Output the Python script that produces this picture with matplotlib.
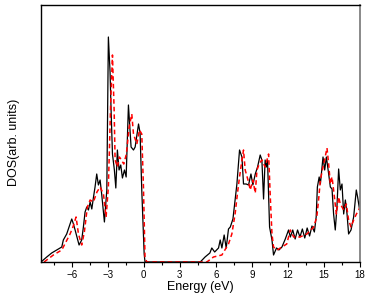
import matplotlib
matplotlib.use("Agg")
import matplotlib.pyplot as plt
from matplotlib.ticker import MultipleLocator

plt.rcParams['font.family'] = ['Liberation Sans', 'DejaVu Sans']

# black curve (solid)
energy_black = [-8.56, -8.08, -7.67, -7.25, -6.83, -6.7, -6.42, -6.14, -6.0, -5.86, -5.72, -5.5, -5.39,
                -5.17, -5.03, -4.89, -4.75, -4.61, -4.47, -4.33, -4.2, -4.06, -3.92, -3.78, -3.64, -3.5,
                -3.28, -3.08, -2.95, -2.81, -2.72, -2.61, -2.45, -2.33, -2.2, -2.06, -1.92, -1.78, -1.61,
                -1.47, -1.28, -1.06, -0.86, -0.72, -0.44, -0.31, -0.17, 0.03, 0.1,
                4.7, 5.1, 5.5, 5.66, 5.9, 6.22, 6.36, 6.5, 6.69,
                6.86, 7.05, 7.2, 7.42, 7.6, 7.75, 7.97, 8.17, 8.3, 8.52, 8.72, 8.92, 9.08, 9.28, 9.47,
                9.69, 9.83, 9.97, 10.1, 10.2, 10.3, 10.47, 10.67, 10.8, 11.05, 11.25, 11.5, 11.78, 12.05,
                12.2, 12.4, 12.6, 12.8, 13.0, 13.2, 13.4, 13.6, 13.8, 14.0, 14.2, 14.35, 14.45, 14.6,
                14.7, 14.92, 15.06, 15.2, 15.39, 15.53, 15.67, 15.8, 15.94, 16.08, 16.22, 16.36, 16.5,
                16.64, 16.78, 16.92, 17.05, 17.25, 17.47, 17.69, 17.8, 17.97, 18.0]
dos_black = [0, 5, 9, 12, 15, 22, 28, 38, 43, 38, 32, 22, 17,
             22, 35, 50, 55, 52, 60, 53, 64, 75, 88, 77, 82, 67,
             40, 72, 225, 190, 150, 108, 92, 74, 112, 92, 97, 84, 92,
             85, 157, 115, 112, 115, 138, 129, 72, 8, 0,
             0, 5, 9, 14, 10, 14, 22, 14, 27,
             14, 33, 35, 43, 62, 78, 112, 105, 78, 78, 77, 88, 77, 88, 95,
             107, 102, 63, 102, 95, 102, 35, 22, 7, 14, 12, 15, 23, 32,
             25, 32, 23, 32, 25, 33, 24, 34, 26, 36, 30, 45, 75, 85,
             78, 105, 92, 105, 88, 75, 73, 48, 32, 55, 93, 72, 78,
             48, 62, 48, 28, 32, 45, 72, 65, 52, 60]

# red curve (dashed)
energy_red = [-8.3, -7.53, -6.83, -6.14, -5.9, -5.64, -5.44, -5.17, -4.95, -4.7, -4.47, -4.2, -3.9,
              -3.64, -3.36, -3.14, -2.95, -2.75, -2.61, -2.47, -2.39, -2.2, -2.03, -1.86, -1.67, -1.45,
              -1.22, -1.0, -0.86, -0.58, -0.36, -0.17, -0.03, 0.1, 0.25, 5.25, 5.8, 6.5, 7.05, 7.33,
              7.6, 7.8, 7.97, 8.17, 8.3, 8.44, 8.72, 8.86, 9.08, 9.28, 9.42, 9.64, 9.83, 10.1, 10.39,
              10.53, 10.67, 10.8, 11.1, 11.5, 11.9, 12.2, 12.47, 13.0, 13.58, 14.14, 14.4, 14.55, 14.7,
              14.92, 15.1, 15.25, 15.39, 15.53, 15.67, 15.8, 16.03, 16.22, 16.36, 16.64, 16.86, 17.05,
              17.25, 17.47, 17.7, 17.9, 18.0]
dos_red = [0, 7, 12, 28, 35, 45, 28, 17, 30, 55, 62, 60, 70,
           75, 68, 45, 75, 162, 207, 152, 102, 95, 105, 102, 98, 108,
           135, 148, 128, 118, 132, 128, 75, 5, 0, 0, 5, 7, 18, 28,
           48, 69, 85, 102, 112, 92, 80, 72, 82, 69, 92, 99, 102, 95, 108,
           65, 28, 15, 12, 15, 18, 32, 25, 25, 28, 35, 45, 62, 82,
           95, 105, 114, 98, 78, 85, 72, 48, 65, 58, 52, 58, 42,
           35, 42, 48, 52, 55]

xticks = [-6, -3, 0, 3, 6, 9, 12, 15, 18]

fig = plt.figure(figsize=(3.74, 3.0), dpi=100)
ax = fig.add_axes([0.1096, 0.1267, 0.853, 0.8566])

ax.plot(energy_black, dos_black, color='black', lw=0.9)
ax.plot(energy_red, dos_red, color='red', lw=1.1, linestyle=(0, (3, 2)))

ax.set_xlim(-8.56, 18)
ax.set_ylim(0, 257)
ax.set_xticks(xticks)
ax.xaxis.set_minor_locator(MultipleLocator(1.5))
ax.set_yticks([])
ax.tick_params(axis='x', which='major', direction='out', length=3.5, width=0.8, labelsize=7, pad=2)
ax.tick_params(axis='x', which='minor', direction='out', length=2.5, width=0.8)

for s in ['left', 'top', 'bottom']:
    ax.spines[s].set_linewidth(1.0)
ax.spines['right'].set_color('#808080')
ax.spines['right'].set_linewidth(1.3)

ax.set_xlabel('Energy (eV)', fontsize=9, labelpad=1)
ax.set_ylabel('DOS(arb. units)', fontsize=9)
ax.yaxis.set_label_coords(-0.065, 0.467)

fig.savefig('out.png', dpi=100)
